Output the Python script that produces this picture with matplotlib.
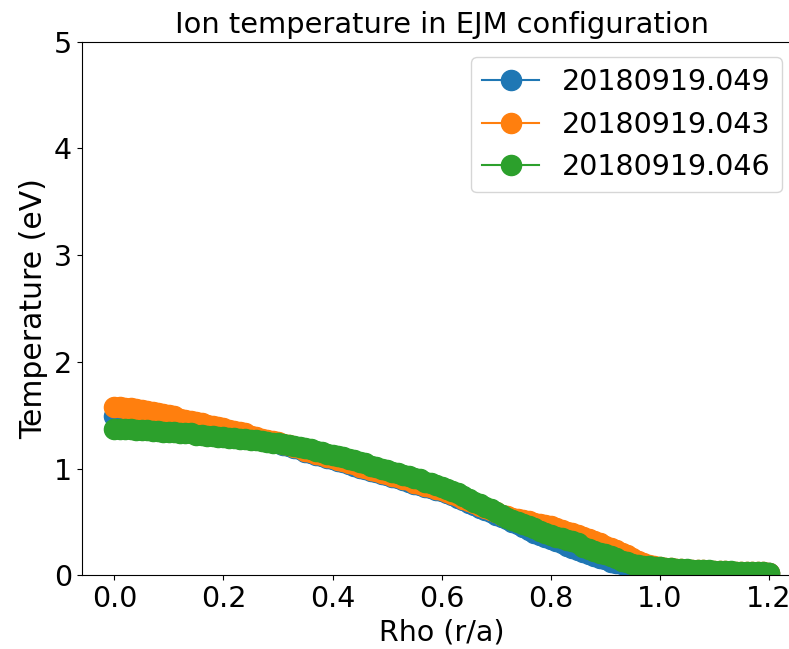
import numpy as np
import matplotlib
matplotlib.use("Agg")
import matplotlib.pyplot as plt

# rho grid (r/a), values read every 0.01 from the picture
rho = np.round(np.arange(0, 121) * 0.01, 2)

# shot 20180919.049
te_049 = [1.49, 1.49, 1.48, 1.48, 1.47, 1.47, 1.46, 1.45, 1.45, 1.44,
          1.43, 1.43, 1.42, 1.41, 1.40, 1.40, 1.39, 1.38, 1.37, 1.36,
          1.35, 1.34, 1.33, 1.32, 1.31, 1.30, 1.29, 1.27, 1.26, 1.25,
          1.24, 1.22, 1.21, 1.19, 1.18, 1.16, 1.15, 1.13, 1.12, 1.10,
          1.09, 1.07, 1.06, 1.04, 1.03, 1.01, 1.00, 0.98, 0.97, 0.95,
          0.94, 0.92, 0.91, 0.89, 0.88, 0.86, 0.85, 0.83, 0.82, 0.80,
          0.79, 0.77, 0.75, 0.73, 0.71, 0.68, 0.66, 0.63, 0.61, 0.59,
          0.57, 0.55, 0.53, 0.50, 0.48, 0.45, 0.43, 0.40, 0.38, 0.36,
          0.34, 0.32, 0.30, 0.28, 0.26, 0.24, 0.22, 0.20, 0.18, 0.16,
          0.15, 0.13, 0.12, 0.11, 0.10, 0.09, 0.08, 0.07, 0.06, 0.06,
          0.05, 0.05, 0.04, 0.04, 0.04, 0.03, 0.03, 0.03, 0.03, 0.03,
          0.03, 0.03, 0.03, 0.02, 0.02, 0.02, 0.02, 0.02, 0.02, 0.02,
          0.02]

# shot 20180919.043
te_043 = [1.58, 1.58, 1.57, 1.57, 1.56, 1.55, 1.54, 1.53, 1.52, 1.51,
          1.50, 1.49, 1.47, 1.46, 1.45, 1.44, 1.43, 1.41, 1.40, 1.39,
          1.38, 1.36, 1.35, 1.34, 1.33, 1.31, 1.30, 1.28, 1.27, 1.26,
          1.25, 1.23, 1.22, 1.20, 1.19, 1.17, 1.16, 1.14, 1.13, 1.11,
          1.10, 1.08, 1.07, 1.05, 1.04, 1.02, 1.01, 0.99, 0.98, 0.96,
          0.95, 0.93, 0.92, 0.90, 0.89, 0.87, 0.86, 0.84, 0.83, 0.81,
          0.80, 0.78, 0.76, 0.74, 0.72, 0.70, 0.68, 0.65, 0.63, 0.61,
          0.59, 0.57, 0.56, 0.54, 0.53, 0.52, 0.51, 0.49, 0.48, 0.47,
          0.46, 0.44, 0.43, 0.41, 0.40, 0.38, 0.36, 0.34, 0.32, 0.30,
          0.28, 0.26, 0.24, 0.21, 0.19, 0.16, 0.14, 0.12, 0.10, 0.09,
          0.08, 0.07, 0.07, 0.06, 0.06, 0.05, 0.05, 0.05, 0.05, 0.04,
          0.04, 0.04, 0.04, 0.03, 0.03, 0.03, 0.03, 0.03, 0.03, 0.03,
          0.02]

# shot 20180919.046
te_046 = [1.37, 1.37, 1.37, 1.37, 1.36, 1.36, 1.36, 1.35, 1.35, 1.34,
          1.34, 1.34, 1.33, 1.33, 1.33, 1.32, 1.32, 1.31, 1.31, 1.30,
          1.30, 1.29, 1.29, 1.28, 1.28, 1.27, 1.27, 1.26, 1.25, 1.24,
          1.24, 1.23, 1.22, 1.21, 1.20, 1.19, 1.18, 1.17, 1.16, 1.14,
          1.13, 1.12, 1.11, 1.09, 1.08, 1.06, 1.05, 1.03, 1.02, 1.00,
          0.99, 0.97, 0.96, 0.94, 0.93, 0.91, 0.90, 0.88, 0.87, 0.85,
          0.83, 0.81, 0.79, 0.77, 0.74, 0.72, 0.69, 0.67, 0.64, 0.62,
          0.59, 0.57, 0.54, 0.52, 0.50, 0.48, 0.46, 0.44, 0.42, 0.40,
          0.38, 0.36, 0.35, 0.33, 0.32, 0.30, 0.27, 0.25, 0.23, 0.21,
          0.20, 0.18, 0.16, 0.14, 0.13, 0.11, 0.10, 0.09, 0.09, 0.08,
          0.08, 0.07, 0.07, 0.06, 0.06, 0.06, 0.05, 0.05, 0.05, 0.05,
          0.04, 0.04, 0.04, 0.04, 0.03, 0.03, 0.03, 0.03, 0.03, 0.03,
          0.02]

shots = ["20180919.049", "20180919.043", "20180919.046"]
series = [te_049, te_043, te_046]

fs = 20.5

fig = plt.figure(figsize=(7.89, 6.49), dpi=100)
# right edge of the axes sits just outside the saved picture, as in the reference
ax = fig.add_axes([0.1035, 0.1133, 0.9123, 0.8225])
ax.spines["right"].set_visible(False)

for name, te in zip(shots, series):
    ax.plot(rho, te, "o-", markersize=14.5, linewidth=1.5, label=name)

ax.set_ylim(0, 5)
ax.set_xticks([0.0, 0.2, 0.4, 0.6, 0.8, 1.0, 1.2])
ax.tick_params(labelsize=fs)
ax.set_title("Ion temperature in EJM configuration", fontsize=20.8)
ax.set_xlabel("Rho (r/a)", fontsize=fs)
ax.set_ylabel("Temperature (eV)", fontsize=21.5)
ax.legend(fontsize=fs, loc="upper right", bbox_to_anchor=(782 / 789, 1 - 57 / 649),
          bbox_transform=fig.transFigure, borderaxespad=0)

fig.savefig("out.png", dpi=100)
